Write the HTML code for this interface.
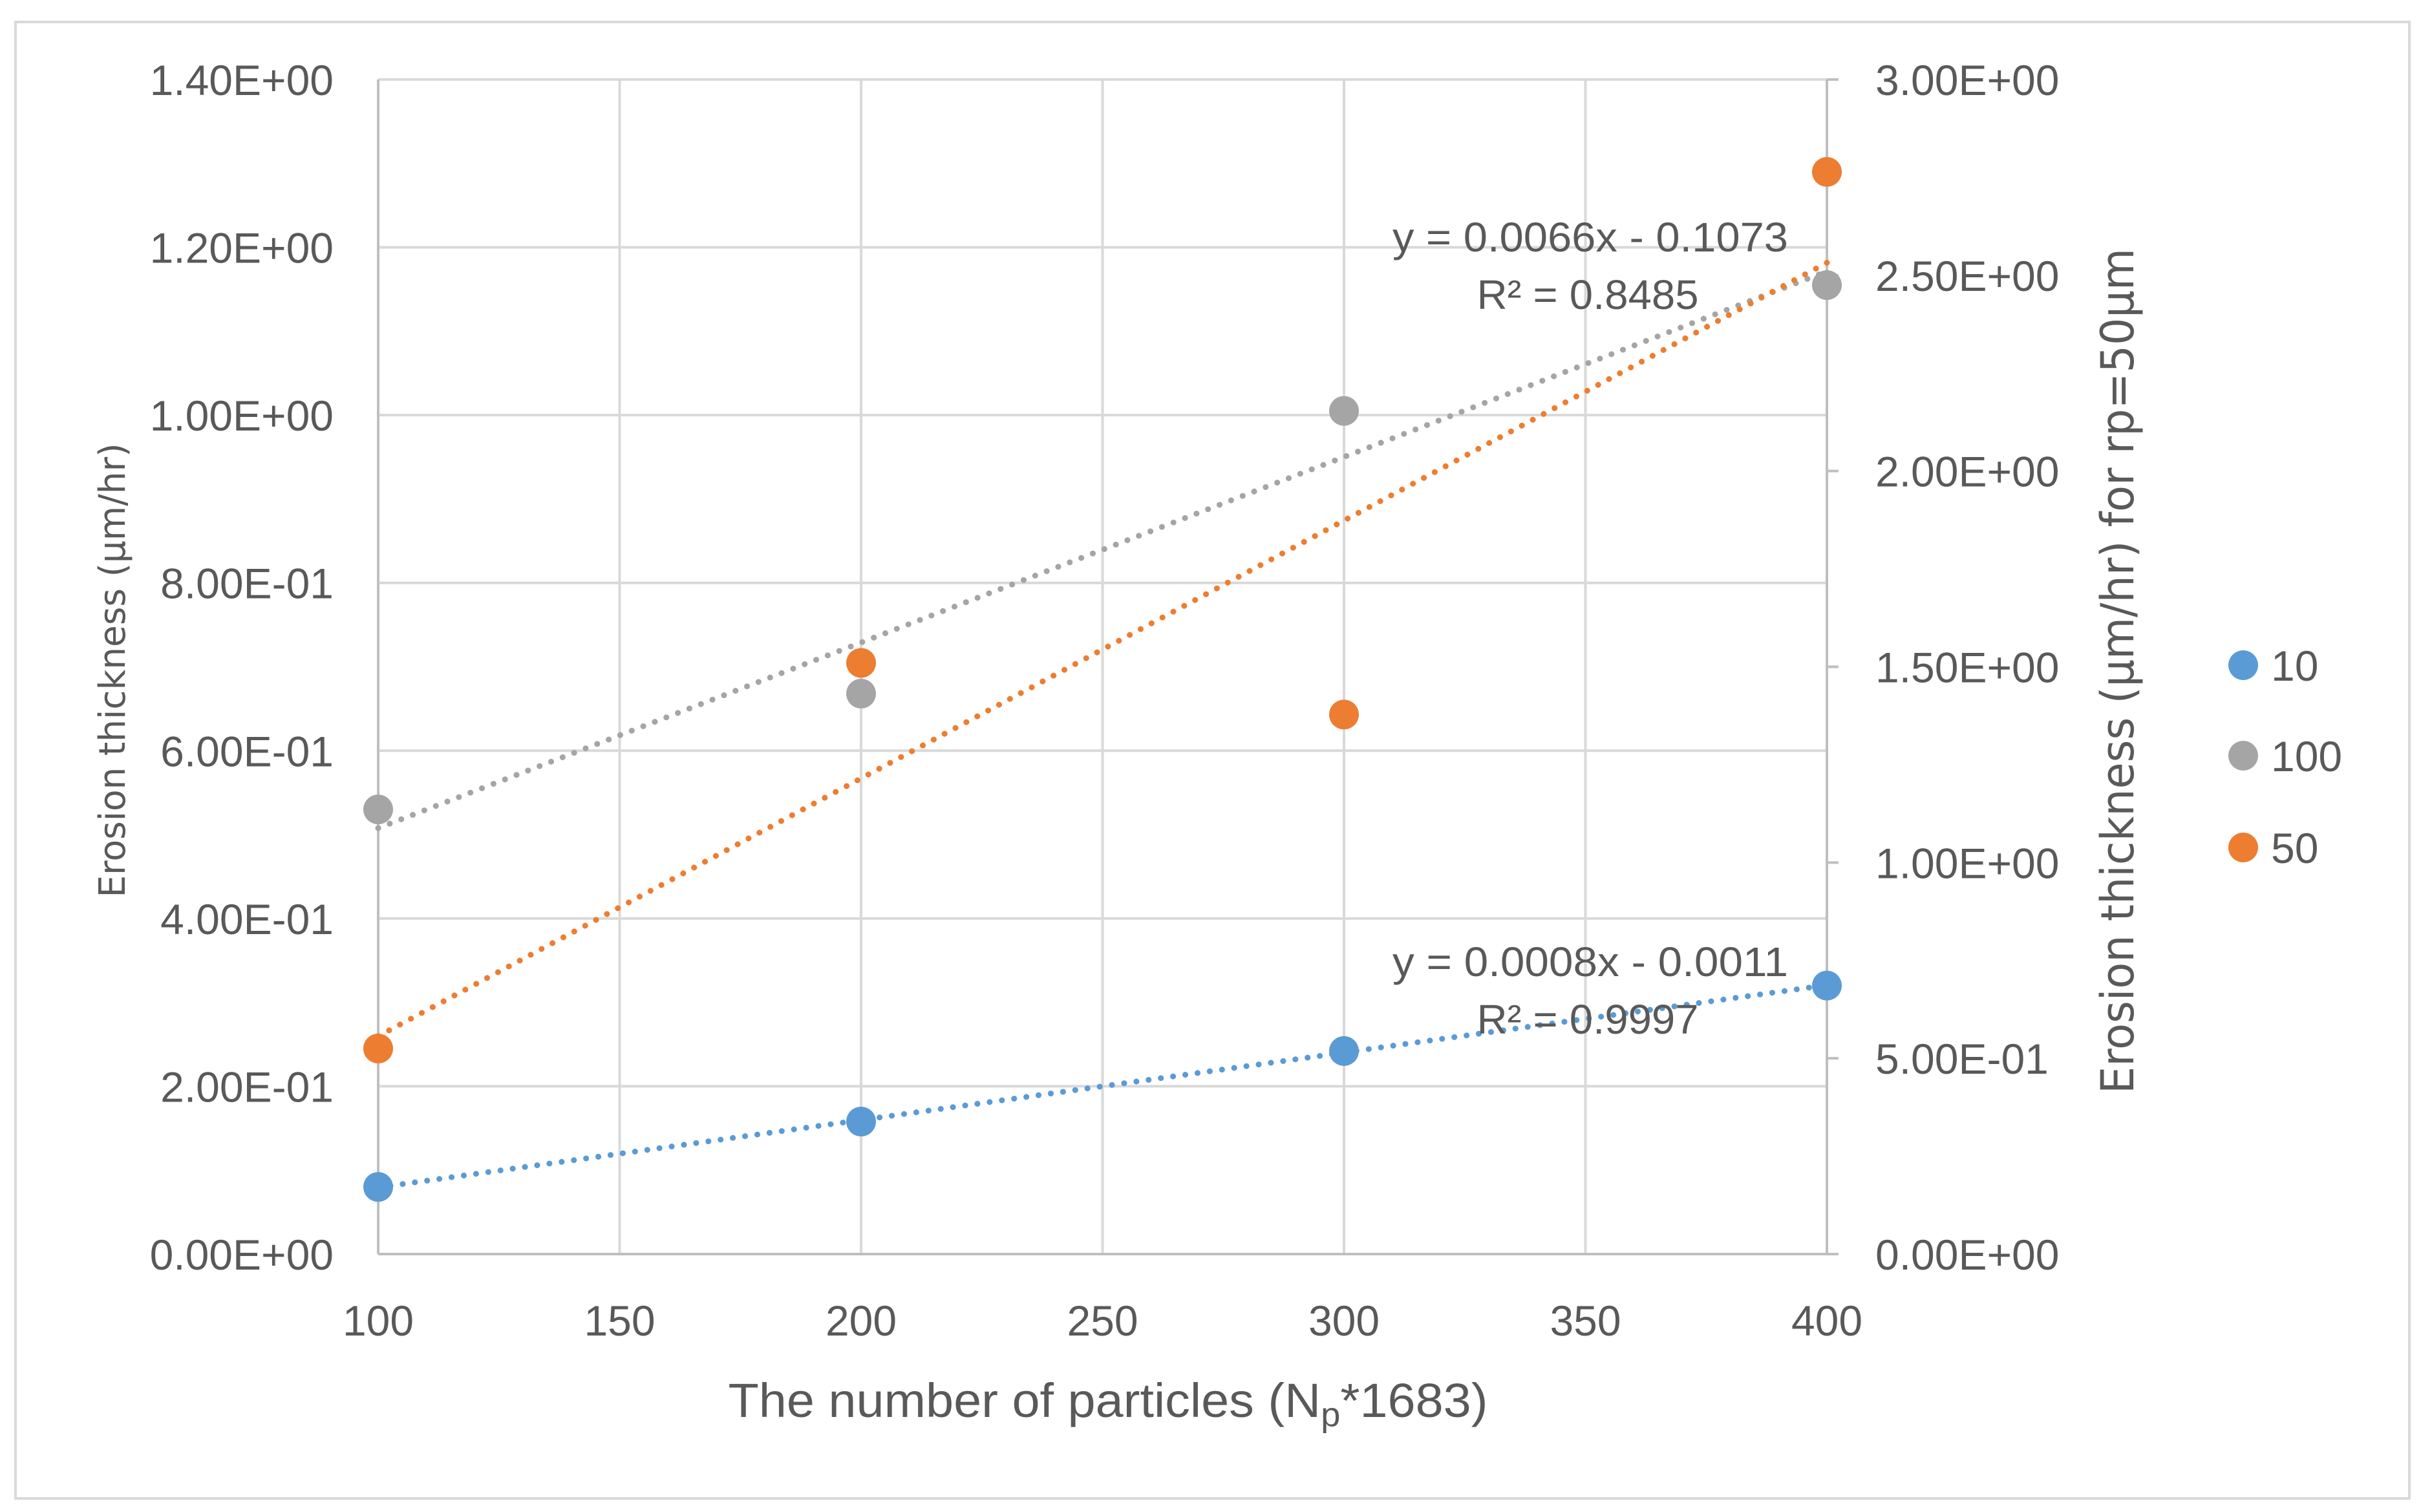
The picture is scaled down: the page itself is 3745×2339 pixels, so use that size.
<!DOCTYPE html>
<html><head><meta charset="utf-8"><style>
html,body{margin:0;padding:0;background:#fff;}
svg{display:block;}
text{font-family:"Liberation Sans","DejaVu Sans",sans-serif;fill:#595959;}
</style></head><body>
<svg id="chart" width="3745" height="2339" viewBox="0 0 3745 2339" xmlns="http://www.w3.org/2000/svg">
<rect x="24" y="34" width="3703" height="2284" fill="#fff" stroke="#d9d9d9" stroke-width="4"/>
<g id="grid"></g>
<g id="axes"></g>
<g id="trends"></g>
<g id="marks"></g>
<g id="labels"></g>
<text x="2460" y="389" font-size="64" text-anchor="middle" textLength="612" lengthAdjust="spacingAndGlyphs">y = 0.0066x - 0.1073</text>
<text x="2456" y="478" font-size="64" text-anchor="middle" textLength="343" lengthAdjust="spacingAndGlyphs">R² = 0.8485</text>
<text x="2460" y="1510" font-size="64" text-anchor="middle" textLength="612" lengthAdjust="spacingAndGlyphs">y = 0.0008x - 0.0011</text>
<text x="2456" y="1599" font-size="64" text-anchor="middle" textLength="343" lengthAdjust="spacingAndGlyphs">R² = 0.9997</text>
<text x="1714" y="2192" font-size="74" text-anchor="middle" textLength="1175" lengthAdjust="spacingAndGlyphs">The number of particles (N<tspan font-size="52" dy="14">p</tspan><tspan dy="-14">*1683)</tspan></text>
<text transform="translate(193,1037) rotate(-90)" font-size="56" text-anchor="middle" textLength="703" lengthAdjust="spacingAndGlyphs" style="font-family:'DejaVu Sans',sans-serif">Erosion thickness (μm/hr)</text>
<text transform="translate(3300,1038) rotate(-90)" font-size="70" text-anchor="middle" textLength="1308" lengthAdjust="spacingAndGlyphs" style="font-family:'DejaVu Sans',sans-serif">Erosion thickness (μm/hr) for rp=50μm</text>
<g>
<circle cx="3470" cy="1029" r="23" fill="#5b9bd5"/>
<text x="3513" y="1053" font-size="66">10</text>
<circle cx="3470" cy="1169" r="23" fill="#a5a5a5"/>
<text x="3513" y="1193" font-size="66">100</text>
<circle cx="3470" cy="1311" r="23" fill="#ed7d31"/>
<text x="3513" y="1335" font-size="66">50</text>
</g>
</svg>
<script>
const categories = [100, 200, 300, 400];
const series10 = [0.08, 0.158, 0.242, 0.32];
const series100 = [0.53, 0.668, 1.005, 1.155];
const series50 = [0.525, 1.51, 1.378, 2.764];
const xTicks = [100, 150, 200, 250, 300, 350, 400];
const yLeftTicks = ["0.00E+00","2.00E-01","4.00E-01","6.00E-01","8.00E-01","1.00E+00","1.20E+00","1.40E+00"];
const yRightTicks = ["0.00E+00","5.00E-01","1.00E+00","1.50E+00","2.00E+00","2.50E+00","3.00E+00"];
const yLeftMax = 1.4, yRightMax = 3.0, xMin = 100, xMax = 400;

const L = 585, R = 2826, T = 123, B = 1940;
const NS = "http://www.w3.org/2000/svg";
const xs = v => L + (v - xMin) / (xMax - xMin) * (R - L);
const yl = v => B - v / yLeftMax * (B - T);
const yr = v => B - v / yRightMax * (B - T);
function mk(tag, attrs, parent) {
  const e = document.createElementNS(NS, tag);
  for (const k in attrs) e.setAttribute(k, attrs[k]);
  parent.appendChild(e);
  return e;
}
const grid = document.getElementById('grid'), axes = document.getElementById('axes'),
  trends = document.getElementById('trends'), marks = document.getElementById('marks'),
  labels = document.getElementById('labels');

yLeftTicks.forEach((t, i) => {
  const v = i * 0.2, y = yl(v);
  if (i > 0) {
    const g = mk('line', {x1: L, x2: R + (i === yLeftTicks.length - 1 ? 15 : 0), y1: y, y2: y, stroke: '#d9d9d9', 'stroke-width': 4}, grid);
    
    
  }
  const tx = mk('text', {x: 516, y: y + 24, 'font-size': 66, 'text-anchor': 'end'}, labels);
  tx.textContent = t;
  
  
});
xTicks.forEach(v => {
  const x = xs(v);
  if (v > xMin) {
    const g = mk('line', {x1: x, x2: x, y1: T, y2: B, stroke: '#d9d9d9', 'stroke-width': 4}, grid);
    
    
  }
  const tx = mk('text', {x: x, y: 2066, 'font-size': 66, 'text-anchor': 'middle'}, labels);
  tx.textContent = v;
  
  
});
yRightTicks.forEach((t, i) => {
  const v = i * 0.5, y = yr(v);
  const tk = mk('line', {x1: R, x2: R + 18, y1: y, y2: y, stroke: '#bfbfbf', 'stroke-width': 4}, axes);
  
  
  const tx = mk('text', {x: 2901, y: y + 24, 'font-size': 66}, labels);
  tx.textContent = t;
  
  
});
const ax1 = mk('line', {x1: L, x2: L, y1: T, y2: B, stroke: '#bfbfbf', 'stroke-width': 4}, axes);


const ax2 = mk('line', {x1: R, x2: R, y1: T, y2: B, stroke: '#bfbfbf', 'stroke-width': 4}, axes);


const ax3 = mk('line', {x1: L, x2: R, y1: B, y2: B, stroke: '#bfbfbf', 'stroke-width': 4}, axes);



function fit(ys) {
  const n = categories.length;
  const mx = categories.reduce((a, b) => a + b, 0) / n, my = ys.reduce((a, b) => a + b, 0) / n;
  let sxy = 0, sxx = 0;
  categories.forEach((x, i) => { sxy += (x - mx) * (ys[i] - my); sxx += (x - mx) * (x - mx); });
  const m = sxy / sxx;
  return [m, my - m * mx];
}
const defs = [
  {ys: series100, f: yl, c: '#a5a5a5', n: '100'},
  {ys: series50, f: yr, c: '#ed7d31', n: '50'},
  {ys: series10, f: yl, c: '#5b9bd5', n: '10'}
];
defs.forEach(d => {
  const [m, b] = fit(d.ys);
  const tl = mk('line', {x1: xs(xMin), y1: d.f(m * xMin + b), x2: xs(xMax), y2: d.f(m * xMax + b),
    stroke: d.c, 'stroke-width': 9, 'stroke-linecap': 'round', 'stroke-dasharray': '0.1 19'}, trends);
  
  
});
defs.forEach(d => {
  d.ys.forEach((v, i) => {
    const c = mk('circle', {cx: xs(categories[i]), cy: d.f(v), r: 23, fill: d.c}, marks);
    
    
  });
});
</script>
</body></html>
